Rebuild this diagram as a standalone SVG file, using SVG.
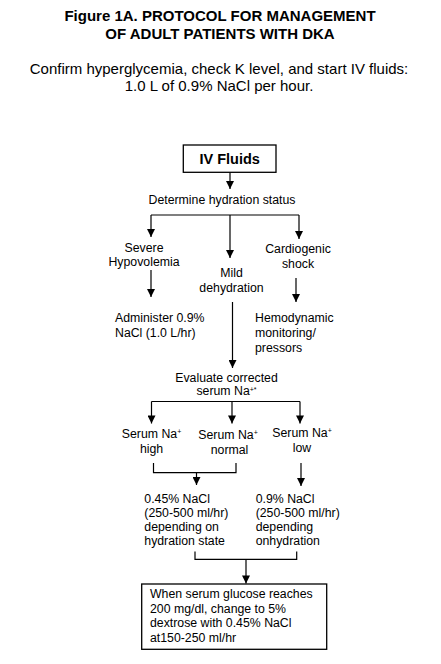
<svg xmlns="http://www.w3.org/2000/svg" width="441" height="664" viewBox="0 0 441 664">
<style>
text{font-family:"Liberation Sans",Arial,sans-serif;fill:#000}
.t{font-size:15px;font-weight:bold}
.s{font-size:15px}
.b{font-size:12.3px}
.c{text-anchor:middle}
.sup{font-size:7px}
line,path.l{stroke:#000;stroke-width:1.2;fill:none}
rect{fill:#fff;stroke:#000;stroke-width:1.3}
</style>
<defs>
<marker id="ah" viewBox="0 0 10 10" refX="10" refY="5" markerWidth="9" markerHeight="8" markerUnits="userSpaceOnUse" orient="auto">
<path d="M0,0 L10,5 L0,10 z" fill="#000"/>
</marker>
</defs>
<rect x="0" y="0" width="441" height="664" style="stroke:none;fill:#fff"/>
<g id="title">
<text class="t c" x="220" y="21">Figure 1A. PROTOCOL FOR MANAGEMENT</text>
<text class="t c" x="220" y="38.5">OF ADULT PATIENTS WITH DKA</text>
<text class="s c" x="219" y="74">Confirm hyperglycemia, check K level, and start IV fluids:</text>
<text class="s c" x="219" y="90.5">1.0 L of 0.9% NaCl per hour.</text>
</g>
<g id="connectors">
<line x1="230" y1="172" x2="230" y2="189" marker-end="url(#ah)"/>
<line x1="151" y1="215" x2="299" y2="215"/>
<line x1="151" y1="215" x2="151" y2="237" marker-end="url(#ah)"/>
<line x1="230" y1="215" x2="230" y2="258" marker-end="url(#ah)"/>
<line x1="299" y1="215" x2="299" y2="239" marker-end="url(#ah)"/>
<line x1="151" y1="270" x2="151" y2="297" marker-end="url(#ah)"/>
<line x1="296" y1="278" x2="296" y2="302" marker-end="url(#ah)"/>
<line x1="232.5" y1="302" x2="232.5" y2="368" marker-end="url(#ah)"/>
<line x1="151.5" y1="401.5" x2="300" y2="401.5"/>
<line x1="151.5" y1="401.5" x2="151.5" y2="423.5" marker-end="url(#ah)"/>
<line x1="232" y1="401.5" x2="232" y2="423.5" marker-end="url(#ah)"/>
<line x1="300" y1="401.5" x2="300" y2="423.5" marker-end="url(#ah)"/>
<path class="l" d="M153.5,463 V472.7 H236 V463"/>
<line x1="196.5" y1="472.7" x2="196.5" y2="485" marker-end="url(#ah)"/>
<line x1="301" y1="463" x2="301" y2="486" marker-end="url(#ah)"/>
<path class="l" d="M195,551.5 V559.3 H296.7 V551.5"/>
<line x1="246" y1="559.3" x2="246" y2="583.5" marker-end="url(#ah)"/>
</g>
<g id="iv-fluids">
<rect x="183.3" y="145" width="92.7" height="27.3"/>
<text class="c" x="229.7" y="164" style="font-size:14.5px;font-weight:bold">IV Fluids</text>
</g>
<g id="determine">
<text class="b c" x="222" y="204">Determine hydration status</text>
</g>
<g id="severe">
<text class="b c" x="144" y="251.5">Severe</text>
<text class="b c" x="144" y="266">Hypovolemia</text>
</g>
<g id="mild">
<text class="b c" x="231.5" y="277">Mild</text>
<text class="b c" x="231.5" y="291.7">dehydration</text>
</g>
<g id="cardiogenic">
<text class="b c" x="298" y="253">Cardiogenic</text>
<text class="b c" x="298" y="268">shock</text>
</g>
<g id="administer">
<text class="b" x="115" y="321.7">Administer 0.9%</text>
<text class="b" x="115" y="336.7">NaCl (1.0 L/hr)</text>
</g>
<g id="hemodynamic">
<text class="b" x="255" y="321.7">Hemodynamic</text>
<text class="b" x="255" y="336.7">monitoring/</text>
<text class="b" x="255" y="351.7">pressors</text>
</g>
<g id="evaluate">
<text class="b c" x="226.5" y="381.5">Evaluate corrected</text>
<text class="b c" x="226.5" y="395">serum Na<tspan class="sup" dy="-3.5">+*</tspan></text>
</g>
<g id="na-high">
<text class="b c" x="151.5" y="437.7">Serum Na<tspan class="sup" dy="-4">+</tspan></text>
<text class="b c" x="151.5" y="453.3">high</text>
</g>
<g id="na-normal">
<text class="b c" x="228" y="439">Serum Na<tspan class="sup" dy="-4">+</tspan></text>
<text class="b c" x="229.5" y="454">normal</text>
</g>
<g id="na-low">
<text class="b c" x="302" y="436.7">Serum Na<tspan class="sup" dy="-4">+</tspan></text>
<text class="b c" x="302" y="451.7">low</text>
</g>
<g id="nacl-045">
<text class="b" x="144.3" y="503.3">0.45% NaCl</text>
<text class="b" x="144.3" y="517.3">(250-500 ml/hr)</text>
<text class="b" x="144.3" y="531">depending on</text>
<text class="b" x="144.3" y="545">hydration state</text>
</g>
<g id="nacl-09">
<text class="b" x="255.7" y="503.3">0.9% NaCl</text>
<text class="b" x="255.7" y="517.3">(250-500 ml/hr)</text>
<text class="b" x="255.7" y="531">depending</text>
<text class="b" x="255.7" y="545">onhydration</text>
</g>
<g id="glucose">
<rect x="141.7" y="584" width="185" height="65.3"/>
<text class="b" x="150" y="598.3">When serum glucose reaches</text>
<text class="b" x="150" y="613">200 mg/dl, change to 5%</text>
<text class="b" x="150" y="627.3">dextrose with 0.45% NaCl</text>
<text class="b" x="150" y="641.7">at150-250 ml/hr</text>
</g>
</svg>
